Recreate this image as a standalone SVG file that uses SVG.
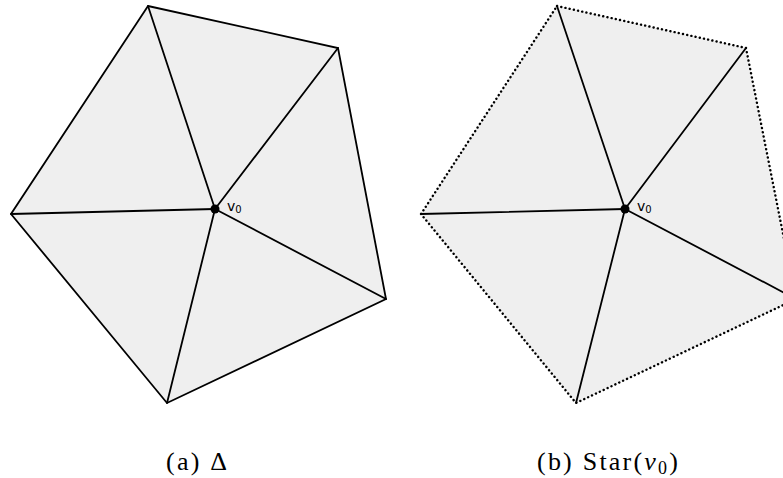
<svg xmlns="http://www.w3.org/2000/svg" width="783" height="478" viewBox="0 0 783 478">
<style>
.face{fill:#efefef;stroke:none}
.edge{stroke:#000;stroke-width:1.8;fill:none;stroke-linecap:round}
.dot{stroke:#000;stroke-width:2.4;fill:none;stroke-dasharray:0.1 4.2;stroke-linecap:round}
.lab{font-family:"DejaVu Sans",sans-serif;font-size:14px;fill:#000}
.cap{font-family:"Liberation Serif",serif;font-size:26px;fill:#000}
</style>
<rect width="783" height="478" fill="#fff"/>
<g id="complexA">
<polygon class="face" points="148,6 338,48 386,299 167,403 11,214"/>
<polygon class="edge" points="148,6 338,48 386,299 167,403 11,214"/>
</g>
<g id="connectorsA">
<line class="edge" x1="215" y1="209" x2="148" y2="6"/>
<line class="edge" x1="215" y1="209" x2="338" y2="48"/>
<line class="edge" x1="215" y1="209" x2="386" y2="299"/>
<line class="edge" x1="215" y1="209" x2="167" y2="403"/>
<line class="edge" x1="215" y1="209" x2="11" y2="214"/>
</g>
<g id="v0a">
<circle cx="215" cy="209" r="4.5" fill="#000"/>
<text class="lab" x="227" y="211">v<tspan font-size="10" dy="2">0</tspan></text>
</g>
<g id="complexB">
<polygon class="face" points="557,6 746,48 796,299 576,403 421,214"/>
<polygon class="dot" points="557,6 746,48 796,299 576,403 421,214"/>
</g>
<g id="connectorsB">
<line class="edge" x1="625" y1="209" x2="557" y2="6"/>
<line class="edge" x1="625" y1="209" x2="746" y2="48"/>
<line class="edge" x1="625" y1="209" x2="796" y2="299"/>
<line class="edge" x1="625" y1="209" x2="576" y2="403"/>
<line class="edge" x1="625" y1="209" x2="421" y2="214"/>
</g>
<g id="v0b">
<circle cx="625" cy="209" r="4.5" fill="#000"/>
<text class="lab" x="637" y="211">v<tspan font-size="10" dy="2">0</tspan></text>
</g>
<text class="cap" x="166" y="470" textLength="61" lengthAdjust="spacing">(a) Δ</text>
<text class="cap" x="537" y="470" textLength="141" lengthAdjust="spacing">(b) Star(<tspan font-style="italic">v</tspan><tspan font-size="18" dy="4">0</tspan><tspan dy="-4">)</tspan></text>
</svg>
